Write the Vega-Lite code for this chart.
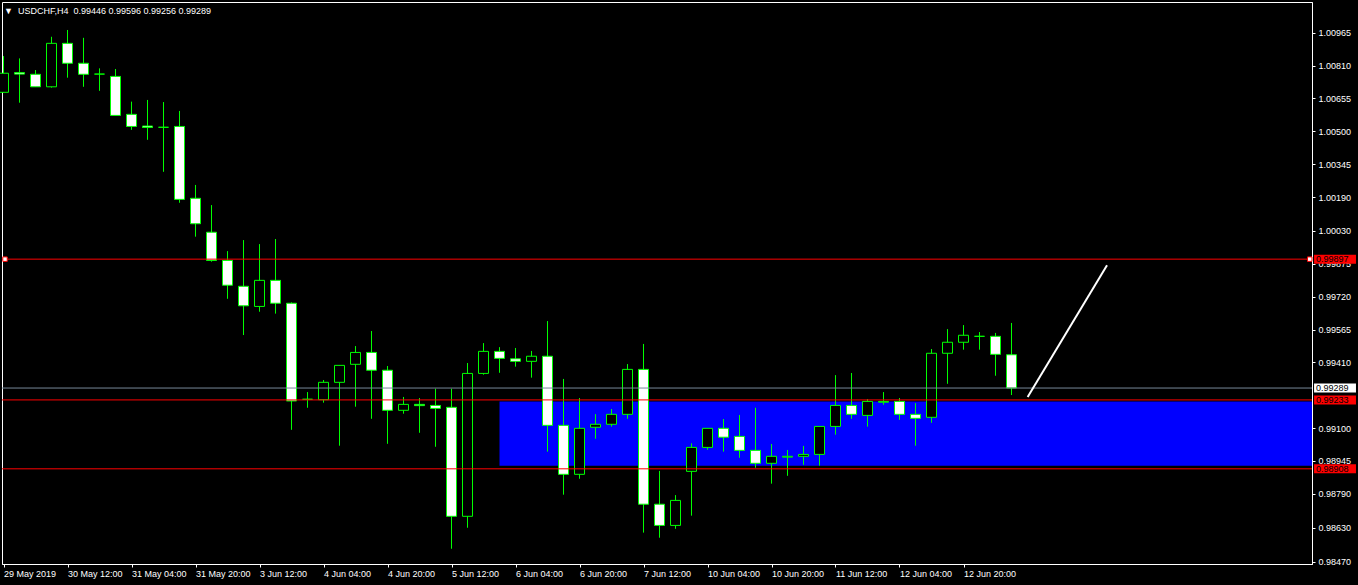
{
  "$schema": "https://vega.github.io/schema/vega-lite/v6.json",
  "width": 1310,
  "height": 562,
  "autosize": {"type": "none"},
  "padding": {"left": 2, "top": 2, "right": 46, "bottom": 21},
  "background": "black",
  "title": {
    "text": "▼\u00a0\u00a0USDCHF,H4\u00a0\u00a00.99446 0.99596 0.99256 0.99289",
    "anchor": "start",
    "frame": "group",
    "orient": "top",
    "offset": -14,
    "dx": 2,
    "color": "white",
    "font": "Liberation Sans",
    "fontSize": 9,
    "fontWeight": "normal"
  },
  "config": {
    "background": "black",
    "font": "Liberation Sans",
    "view": {"stroke": "white", "strokeWidth": 1},
    "scale": {"continuousPadding": 0},
    "axis": {
      "grid": false,
      "domainColor": "white",
      "tickColor": "white",
      "labelColor": "white",
      "labelFont": "Liberation Sans",
      "labelFontSize": 9,
      "tickSize": 3,
      "labelOverlap": false,
      "labelSeparation": 0
    },
    "axisY": {"labelOverlap": false},
    "axisX": {"labelOverlap": false}
  },
  "datasets": {
    "candles": [
      {"time": "2019-05-29 20:00", "bar": 0, "open": 1.00684, "high": 1.00855, "low": 1.00681, "close": 1.00774},
      {"time": "2019-05-30 00:00", "bar": 1, "open": 1.00777, "high": 1.00844, "low": 1.00635, "close": 1.00770},
      {"time": "2019-05-30 04:00", "bar": 2, "open": 1.00769, "high": 1.00789, "low": 1.00710, "close": 1.00710},
      {"time": "2019-05-30 08:00", "bar": 3, "open": 1.00710, "high": 1.00946, "low": 1.00706, "close": 1.00915},
      {"time": "2019-05-30 12:00", "bar": 4, "open": 1.00915, "high": 1.00978, "low": 1.00753, "close": 1.00821},
      {"time": "2019-05-30 16:00", "bar": 5, "open": 1.00821, "high": 1.00941, "low": 1.00710, "close": 1.00769},
      {"time": "2019-05-30 20:00", "bar": 6, "open": 1.00770, "high": 1.00797, "low": 1.00691, "close": 1.00770},
      {"time": "2019-05-31 00:00", "bar": 7, "open": 1.00759, "high": 1.00794, "low": 1.00575, "close": 1.00575},
      {"time": "2019-05-31 04:00", "bar": 8, "open": 1.00580, "high": 1.00640, "low": 1.00507, "close": 1.00523},
      {"time": "2019-05-31 08:00", "bar": 9, "open": 1.00525, "high": 1.00648, "low": 1.00460, "close": 1.00518},
      {"time": "2019-05-31 12:00", "bar": 10, "open": 1.00519, "high": 1.00638, "low": 1.00309, "close": 1.00519},
      {"time": "2019-05-31 16:00", "bar": 11, "open": 1.00523, "high": 1.00596, "low": 1.00163, "close": 1.00179},
      {"time": "2019-05-31 20:00", "bar": 12, "open": 1.00184, "high": 1.00247, "low": 1.00003, "close": 1.00064},
      {"time": "2019-06-03 00:00", "bar": 13, "open": 1.00024, "high": 1.00152, "low": 0.99885, "close": 0.99891},
      {"time": "2019-06-03 04:00", "bar": 14, "open": 0.99891, "high": 0.99935, "low": 0.99710, "close": 0.99774},
      {"time": "2019-06-03 08:00", "bar": 15, "open": 0.99769, "high": 0.99987, "low": 0.99539, "close": 0.99677},
      {"time": "2019-06-03 12:00", "bar": 16, "open": 0.99674, "high": 0.99968, "low": 0.99649, "close": 0.99797},
      {"time": "2019-06-03 16:00", "bar": 17, "open": 0.99797, "high": 0.99992, "low": 0.99640, "close": 0.99689},
      {"time": "2019-06-03 20:00", "bar": 18, "open": 0.99689, "high": 0.99693, "low": 0.99092, "close": 0.99228},
      {"time": "2019-06-04 00:00", "bar": 19, "open": 0.99236, "high": 0.99270, "low": 0.99196, "close": 0.99236},
      {"time": "2019-06-04 04:00", "bar": 20, "open": 0.99234, "high": 0.99327, "low": 0.99220, "close": 0.99316},
      {"time": "2019-06-04 08:00", "bar": 21, "open": 0.99316, "high": 0.99396, "low": 0.99017, "close": 0.99396},
      {"time": "2019-06-04 12:00", "bar": 22, "open": 0.99401, "high": 0.99487, "low": 0.99201, "close": 0.99457},
      {"time": "2019-06-04 16:00", "bar": 23, "open": 0.99457, "high": 0.99558, "low": 0.99144, "close": 0.99373},
      {"time": "2019-06-04 20:00", "bar": 24, "open": 0.99373, "high": 0.99393, "low": 0.99026, "close": 0.99184},
      {"time": "2019-06-05 00:00", "bar": 25, "open": 0.99184, "high": 0.99247, "low": 0.99168, "close": 0.99212},
      {"time": "2019-06-05 04:00", "bar": 26, "open": 0.99212, "high": 0.99242, "low": 0.99078, "close": 0.99206},
      {"time": "2019-06-05 08:00", "bar": 27, "open": 0.99207, "high": 0.99286, "low": 0.99012, "close": 0.99193},
      {"time": "2019-06-05 12:00", "bar": 28, "open": 0.99198, "high": 0.99286, "low": 0.98531, "close": 0.98684},
      {"time": "2019-06-05 16:00", "bar": 29, "open": 0.98684, "high": 0.99407, "low": 0.98630, "close": 0.99358},
      {"time": "2019-06-05 20:00", "bar": 30, "open": 0.99358, "high": 0.99501, "low": 0.99352, "close": 0.99462},
      {"time": "2019-06-06 00:00", "bar": 31, "open": 0.99462, "high": 0.99482, "low": 0.99361, "close": 0.99429},
      {"time": "2019-06-06 04:00", "bar": 32, "open": 0.99427, "high": 0.99478, "low": 0.99390, "close": 0.99415},
      {"time": "2019-06-06 08:00", "bar": 33, "open": 0.99415, "high": 0.99464, "low": 0.99338, "close": 0.99439},
      {"time": "2019-06-06 12:00", "bar": 34, "open": 0.99439, "high": 0.99605, "low": 0.98989, "close": 0.99113},
      {"time": "2019-06-06 16:00", "bar": 35, "open": 0.99113, "high": 0.99332, "low": 0.98786, "close": 0.98882},
      {"time": "2019-06-06 20:00", "bar": 36, "open": 0.98882, "high": 0.99242, "low": 0.98861, "close": 0.99099},
      {"time": "2019-06-07 00:00", "bar": 37, "open": 0.99104, "high": 0.99166, "low": 0.99050, "close": 0.99118},
      {"time": "2019-06-07 04:00", "bar": 38, "open": 0.99118, "high": 0.99190, "low": 0.99107, "close": 0.99165},
      {"time": "2019-06-07 08:00", "bar": 39, "open": 0.99165, "high": 0.99402, "low": 0.99144, "close": 0.99377},
      {"time": "2019-06-07 12:00", "bar": 40, "open": 0.99377, "high": 0.99497, "low": 0.98607, "close": 0.98741},
      {"time": "2019-06-07 16:00", "bar": 41, "open": 0.98741, "high": 0.98898, "low": 0.98583, "close": 0.98641},
      {"time": "2019-06-07 20:00", "bar": 42, "open": 0.98641, "high": 0.98784, "low": 0.98625, "close": 0.98759},
      {"time": "2019-06-10 00:00", "bar": 43, "open": 0.98896, "high": 0.99028, "low": 0.98687, "close": 0.99009},
      {"time": "2019-06-10 04:00", "bar": 44, "open": 0.99009, "high": 0.99099, "low": 0.98998, "close": 0.99099},
      {"time": "2019-06-10 08:00", "bar": 45, "open": 0.99099, "high": 0.99143, "low": 0.98989, "close": 0.99057},
      {"time": "2019-06-10 12:00", "bar": 46, "open": 0.99061, "high": 0.99162, "low": 0.98960, "close": 0.98995},
      {"time": "2019-06-10 16:00", "bar": 47, "open": 0.98995, "high": 0.99196, "low": 0.98913, "close": 0.98934},
      {"time": "2019-06-10 20:00", "bar": 48, "open": 0.98934, "high": 0.99025, "low": 0.98838, "close": 0.98967},
      {"time": "2019-06-11 00:00", "bar": 49, "open": 0.98963, "high": 0.98997, "low": 0.98875, "close": 0.98967},
      {"time": "2019-06-11 04:00", "bar": 50, "open": 0.98967, "high": 0.99016, "low": 0.98927, "close": 0.98976},
      {"time": "2019-06-11 08:00", "bar": 51, "open": 0.98976, "high": 0.99108, "low": 0.98923, "close": 0.99108},
      {"time": "2019-06-11 12:00", "bar": 52, "open": 0.99108, "high": 0.99350, "low": 0.99069, "close": 0.99207},
      {"time": "2019-06-11 16:00", "bar": 53, "open": 0.99207, "high": 0.99360, "low": 0.99144, "close": 0.99165},
      {"time": "2019-06-11 20:00", "bar": 54, "open": 0.99160, "high": 0.99237, "low": 0.99107, "close": 0.99226},
      {"time": "2019-06-12 00:00", "bar": 55, "open": 0.99222, "high": 0.99270, "low": 0.99210, "close": 0.99226},
      {"time": "2019-06-12 04:00", "bar": 56, "open": 0.99226, "high": 0.99242, "low": 0.99139, "close": 0.99165},
      {"time": "2019-06-12 08:00", "bar": 57, "open": 0.99165, "high": 0.99218, "low": 0.99017, "close": 0.99146},
      {"time": "2019-06-12 12:00", "bar": 58, "open": 0.99151, "high": 0.99473, "low": 0.99125, "close": 0.99453},
      {"time": "2019-06-12 16:00", "bar": 59, "open": 0.99453, "high": 0.99567, "low": 0.99309, "close": 0.99505},
      {"time": "2019-06-12 20:00", "bar": 60, "open": 0.99505, "high": 0.99586, "low": 0.99470, "close": 0.99538},
      {"time": "2019-06-13 00:00", "bar": 61, "open": 0.99533, "high": 0.99553, "low": 0.99470, "close": 0.99533},
      {"time": "2019-06-13 04:00", "bar": 62, "open": 0.99533, "high": 0.99549, "low": 0.99347, "close": 0.99448},
      {"time": "2019-06-13 08:00", "bar": 63, "open": 0.99446, "high": 0.99596, "low": 0.99256, "close": 0.99289}
    ]
  },
  "layer": [
    {
      "data": {"values": [{"bar": 31, "end": 81.78, "top": 0.99226, "bottom": 0.98922}]},
      "mark": {"type": "rect", "fill": "#0000FF", "clip": true},
      "encoding": {
        "x": {"field": "bar", "type": "quantitative", "title": null,
              "scale": {"domain": [-0.09375, 81.78125], "nice": false, "zero": false, "padding": 0},
              "axis": {
                "orient": "bottom",
                "values": [0, 4, 8, 12, 16, 20, 24, 28, 32, 36, 40, 44, 48, 52, 56, 60],
                "tickCount": 40,
                "labelExpr": "['29 May 2019','30 May 12:00','31 May 04:00','31 May 20:00','3 Jun 12:00','4 Jun 04:00','4 Jun 20:00','5 Jun 12:00','6 Jun 04:00','6 Jun 20:00','7 Jun 12:00','10 Jun 04:00','10 Jun 20:00','11 Jun 12:00','12 Jun 04:00','12 Jun 20:00'][round(datum.value / 4)]",
                "labelAlign": "left",
                "labelDx": -1,
                "labelPadding": 2,
                "labelOverlap": false,
                "labelFlush": false,
                "labelBound": false
              }},
        "x2": {"field": "end"},
        "y": {"field": "top", "type": "quantitative", "title": null,
              "scale": {"domain": [0.98459, 1.0111], "nice": false, "zero": false, "padding": 0},
              "axis": {
                "orient": "right",
                "values": [1.00965, 1.0081, 1.00655, 1.005, 1.00345, 1.0019, 1.0003, 0.99875, 0.9972, 0.99565, 0.9941, 0.991, 0.98945, 0.9879, 0.9863, 0.9847],
                "tickCount": 40,
                "format": ".5f",
                "labelPadding": 3,
                "labelOverlap": false,
                "labelFlush": false,
                "labelBound": false,
                "labelBaseline": "middle"
              }},
        "y2": {"field": "bottom"}
      }
    },
    {
      "data": {"name": "candles"},
      "mark": {"type": "rule", "color": "#00FF00", "strokeWidth": 1},
      "encoding": {
        "x": {"field": "bar", "type": "quantitative", "title": null},
        "y": {"field": "low", "type": "quantitative", "title": null},
        "y2": {"field": "high"}
      }
    },
    {
      "data": {"name": "candles"},
      "mark": {"type": "bar", "size": 10, "stroke": "#00FF00", "strokeWidth": 1},
      "encoding": {
        "x": {"field": "bar", "type": "quantitative", "title": null},
        "y": {"field": "open", "type": "quantitative", "title": null},
        "y2": {"field": "close"},
        "fill": {"condition": {"test": "datum.open > datum.close", "value": "white"}, "value": "black"}
      }
    },
    {
      "data": {"values": [{"price": 0.99289}]},
      "mark": {"type": "rule", "color": "#778899", "strokeWidth": 1},
      "encoding": {
        "y": {"field": "price", "type": "quantitative", "title": null}
      }
    },
    {
      "data": {"values": [{"price": 0.99897}, {"price": 0.99233}, {"price": 0.98908}]},
      "mark": {"type": "rule", "color": "#FF0000", "strokeWidth": 1},
      "encoding": {
        "y": {"field": "price", "type": "quantitative", "title": null}
      }
    },
    {
      "data": {"values": [{"bar": 64.01, "price": 0.99247}, {"bar": 68.97, "price": 0.99868}]},
      "mark": {"type": "line", "color": "white", "strokeWidth": 2},
      "encoding": {
        "x": {"field": "bar", "type": "quantitative", "title": null},
        "y": {"field": "price", "type": "quantitative", "title": null}
      }
    },
    {
      "data": {"values": [{"bar": 0.094, "price": 0.99897}, {"bar": 81.64, "price": 0.99897}]},
      "mark": {"type": "point", "shape": "square", "size": 20, "filled": true, "fill": "white", "stroke": "#FF0000", "strokeWidth": 1, "opacity": 1},
      "encoding": {
        "x": {"field": "bar", "type": "quantitative", "title": null},
        "y": {"field": "price", "type": "quantitative", "title": null}
      }
    },
    {
      "data": {"values": [
        {"price": 0.99897, "label": "0.99897", "kind": "object"},
        {"price": 0.99289, "label": "0.99289", "kind": "bid"},
        {"price": 0.99233, "label": "0.99233", "kind": "object"},
        {"price": 0.98908, "label": "0.98908", "kind": "object"}
      ]},
      "layer": [
        {
          "mark": {"type": "bar", "size": 9, "clip": false},
          "encoding": {
            "x": {"datum": 81.91, "type": "quantitative", "title": null},
            "x2": {"datum": 84.53},
            "y": {"field": "price", "type": "quantitative", "title": null},
            "fill": {"condition": {"test": "datum.kind === 'bid'", "value": "white"}, "value": "#FF0000"}
          }
        },
        {
          "mark": {"type": "text", "align": "left", "baseline": "middle", "fontSize": 9, "font": "Liberation Sans", "color": "black", "clip": false},
          "encoding": {
            "x": {"datum": 82.03, "type": "quantitative", "title": null},
            "y": {"field": "price", "type": "quantitative", "title": null},
            "text": {"field": "label"}
          }
        }
      ]
    }
  ]
}
